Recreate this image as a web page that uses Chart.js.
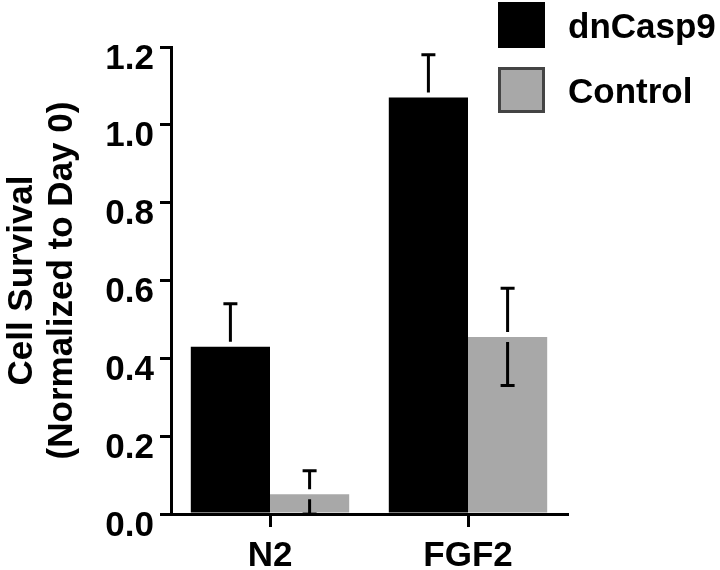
<!DOCTYPE html>
<html>
<head>
<meta charset="utf-8">
<script src="https://cdn.jsdelivr.net/npm/chart.js@4"></script>
<style>
  html, body { margin: 0; padding: 0; background: #ffffff; }
  #wrap { width: 720px; height: 570px; }
</style>
</head>
<body>
<div id="wrap"><canvas id="c" width="720" height="570"></canvas></div>
<script>
// ---- data ----
const categories = ['N2', 'FGF2'];
const seriesNames = ['dnCasp9', 'Control'];
const dnCasp9 = [0.43, 1.07];
const control = [0.051, 0.455];
const dnCasp9Err = [0.11, 0.11];
const controlErr = [0.06, 0.125];
const yTickValues = [0, 0.2, 0.4, 0.6, 0.8, 1.0, 1.2];
const yTickLabels = ['0.0', '0.2', '0.4', '0.6', '0.8', '1.0', '1.2'];
const yTitle = ['Cell Survival', '(Normalized to Day 0)'];

const FONT = '"Liberation Sans", Arial, Helvetica, sans-serif';
const seriesColors = ['#000000', '#a8a8a8'];
const errors = [dnCasp9Err, controlErr];

const errorBarPlugin = {
  id: 'errorBars',
  afterDatasetsDraw(chart) {
    const ctx = chart.ctx;
    const y = chart.scales.y;
    ctx.save();
    ctx.strokeStyle = '#000';
    ctx.lineWidth = 3;
    ctx.lineCap = 'butt';
    chart.data.datasets.forEach((ds, i) => {
      const meta = chart.getDatasetMeta(i);
      meta.data.forEach((bar, j) => {
        const v = ds.data[j];
        const e = errors[i][j];
        const x = bar.x;
        const top = bar.y;
        const yUp = y.getPixelForValue(v + e);
        const yDn = y.getPixelForValue(Math.max(0, v - e));
        const gap = 5, cap = 7;
        ctx.beginPath();
        ctx.moveTo(x, yUp); ctx.lineTo(x, top - gap);
        ctx.moveTo(x - cap, yUp); ctx.lineTo(x + cap, yUp);
        ctx.moveTo(x, top + gap); ctx.lineTo(x, yDn);
        ctx.moveTo(x - cap, yDn); ctx.lineTo(x + cap, yDn);
        ctx.stroke();
      });
    });
    ctx.restore();
  }
};

const legendPlugin = {
  id: 'customLegend',
  afterDraw(chart) {
    const ctx = chart.ctx;
    ctx.save();
    chart.data.datasets.forEach((ds, i) => {
      const bx = 498, by = 2 + i * 65, bw = 47, bh = 46;
      ctx.fillStyle = ds.backgroundColor;
      ctx.fillRect(bx, by, bw, bh);
      if (i === 1) {
        ctx.strokeStyle = '#444';
        ctx.lineWidth = 3;
        ctx.strokeRect(bx + 1.5, by + 1.5, bw - 3, bh - 3);
      }
      ctx.fillStyle = '#000';
      ctx.font = 'bold 35px ' + FONT;
      ctx.textBaseline = 'middle';
      ctx.textAlign = 'left';
      ctx.fillText(ds.label, 568, by + bh / 2 + 3);
    });
    ctx.restore();
  }
};

new Chart(document.getElementById('c'), {
  type: 'bar',
  data: {
    labels: categories,
    datasets: [
      { label: seriesNames[0], data: dnCasp9, backgroundColor: seriesColors[0], borderWidth: 0 },
      { label: seriesNames[1], data: control, backgroundColor: seriesColors[1], borderWidth: 0 }
    ]
  },
  options: {
    responsive: false,
    animation: false,
    devicePixelRatio: 1,
    layout: { padding: { top: 47, right: 153, left: 0, bottom: 0 } },
    datasets: { bar: { categoryPercentage: 0.8, barPercentage: 1.0 } },
    plugins: { legend: { display: false }, tooltip: { enabled: false } },
    scales: {
      x: {
        offset: true,
        grid: { offset: false, drawOnChartArea: false, drawTicks: true, tickLength: 13, lineWidth: 3, color: '#000' },
        border: { display: true, color: '#000', width: 3 },
        ticks: { color: '#000', padding: 8, font: { family: FONT, size: 35, weight: 'bold' }, maxRotation: 0 },
        afterFit(scale) { scale.height = 56; }
      },
      y: {
        min: 0, max: 1.2,
        afterBuildTicks(scale) { scale.ticks = yTickValues.map(v => ({ value: v })); },
        grid: { drawOnChartArea: false, drawTicks: true, tickLength: 11, lineWidth: 3, color: '#000' },
        border: { display: true, color: '#000', width: 3 },
        ticks: {
          color: '#000', padding: 6, labelOffset: 12,
          font: { family: FONT, size: 35, weight: 'bold' },
          callback: (v) => { const k = yTickValues.findIndex(t => Math.abs(t - v) < 1e-9); return k >= 0 ? yTickLabels[k] : ''; }
        },
        title: {
          display: true, text: yTitle, color: '#000',
          font: { family: FONT, size: 35, weight: 'bold', lineHeight: 40 / 35 },
          padding: { top: 2, bottom: 0 }
        },
        afterFit(scale) { scale.width = 171; }
      }
    }
  },
  plugins: [errorBarPlugin, legendPlugin]
});
</script>
</body>
</html>
